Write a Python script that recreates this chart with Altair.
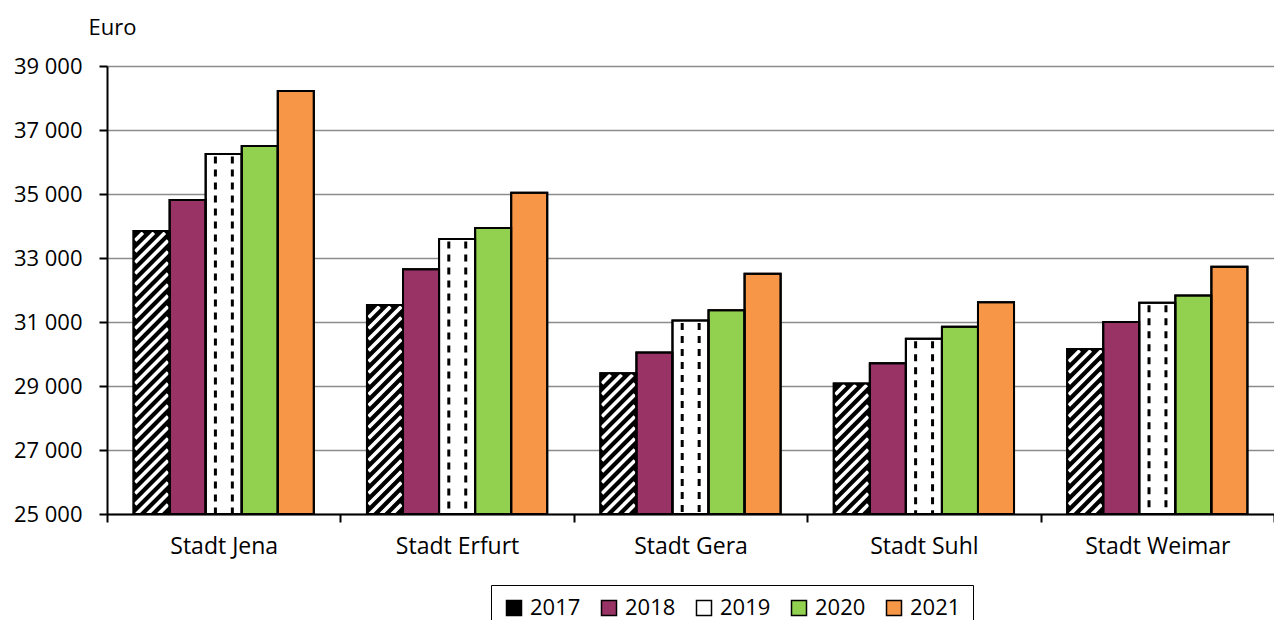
import altair as alt
import pandas as pd
import numpy as np

cities = ["Stadt Jena", "Stadt Erfurt", "Stadt Gera", "Stadt Suhl", "Stadt Weimar"]
years = ["2017", "2018", "2019", "2020", "2021"]
v2017 = [33840, 31530, 29400, 29080, 30160]
v2018 = [34810, 32650, 30050, 29710, 31000]
v2019 = [36250, 33590, 31050, 30480, 31600]
v2020 = [36500, 33940, 31370, 30850, 31830]
v2021 = [38220, 35040, 32510, 31620, 32730]
colors = ["#000000", "#993366", "#ffffff", "#92d050", "#f79646"]
y_ticks = [25000, 27000, 29000, 31000, 33000, 35000, 37000, 39000]
Y_MIN, Y_MAX = 25000, 39000

W, H = 1167, 448
PO = 0.737  # outer padding of the year sub-band
FONT = "Open Sans"

series = [v2017, v2018, v2019, v2020, v2021]
rows = []
for j, yr in enumerate(years):
    for i, c in enumerate(cities):
        rows.append({"city": c, "year": yr, "value": series[j][i]})
df = pd.DataFrame(rows)

# geometry helpers (group = 1 unit on a linear helper scale 0..5)
n = len(cities)
group_px = W / n
s = 1.0 / (len(years) + 2 * PO)
px_per_y = H / (Y_MAX - Y_MIN)

# diagonal hatch (white lines over black fill) for 2017
stripes = []
period = 11.0
inset = 1.6
for i, v in enumerate(v2017):
    left = i + PO * s
    bw = s * group_px
    h = (v - Y_MIN) * px_per_y
    x0, x1, y0, y1 = inset, bw - inset, 0.0, h - inset
    for k in np.arange(-bw, h + period, period):
        xs = max(x0, y0 - k)
        xe = min(x1, y1 - k)
        if xe - xs > 0.3:
            stripes.append({
                "x": left + xs / group_px, "x2": left + xe / group_px,
                "y": Y_MIN + (xs + k) / px_per_y, "y2": Y_MIN + (xe + k) / px_per_y,
            })
stripes_df = pd.DataFrame(stripes)

# dashed vertical columns for 2019
dashes = []
for i, v in enumerate(v2019):
    left = i + (PO + 2) * s
    for frac in (0.27, 0.74):
        dashes.append({"x": left + frac * s, "top": v - 2.5 / px_per_y, "base": Y_MIN})
dashes_df = pd.DataFrame(dashes)

yscale = alt.Scale(domain=[Y_MIN, Y_MAX], zero=False, nice=False)
xq = alt.Scale(domain=[0, n], zero=False, nice=False)

x_band = alt.X("city:N", sort=cities, scale=alt.Scale(paddingInner=0, paddingOuter=0),
               axis=alt.Axis(title=None, labelAngle=0, labelFontSize=23, labelColor="black",
                             labelFont=FONT, labelPadding=13, tickSize=8, tickWidth=2,
                             tickColor="black", domainColor="black", domainWidth=2,
                             tickBand="extent", grid=False))
x_off = alt.XOffset("year:N", sort=years, scale=alt.Scale(paddingInner=0, paddingOuter=PO))

bars = alt.Chart(df).mark_bar(stroke="black", strokeWidth=2).encode(
    x=x_band,
    xOffset=x_off,
    y=alt.Y("value:Q", scale=yscale,
            axis=alt.Axis(values=y_ticks, title="Euro",
                          labelExpr="replace(format(datum.value, ','), ',', ' ')",
                          titleAngle=0, titleAlign="left", titleBaseline="alphabetic",
                          titleX=-19, titleY=-32, titleFontSize=22, titleFontWeight="normal",
                          titleFont=FONT, titleColor="black",
                          labelFontSize=22, labelFont=FONT, labelColor="black", labelPadding=17,
                          tickSize=8, tickWidth=2, tickColor="black",
                          domainColor="black", domainWidth=2,
                          grid=True, gridColor="#8c8c8c", gridWidth=1.5)),
    y2=alt.datum(Y_MIN),
    color=alt.Color("year:N", sort=years, scale=alt.Scale(domain=years, range=colors),
                    legend=alt.Legend(orient="none", legendX=384, legendY=519,
                                      direction="horizontal", title=None,
                                      symbolType="square", symbolSize=225,
                                      symbolStrokeColor="black", symbolStrokeWidth=1.5,
                                      symbolOpacity=1,
                                      labelFontSize=22, labelFont=FONT, labelColor="black",
                                      labelOffset=5, columnPadding=17, padding=12,
                                      strokeColor="black", fillColor="white")),
)

hatch = alt.Chart(stripes_df).mark_rule(color="white", strokeWidth=3.6, strokeCap="butt").encode(
    x=alt.X("x:Q", scale=xq, axis=None),
    x2="x2:Q",
    y=alt.Y("y:Q", scale=yscale),
    y2="y2:Q",
)

dash = alt.Chart(dashes_df).mark_rule(color="black", strokeWidth=3, strokeDash=[7, 6],
                                      strokeCap="butt").encode(
    x=alt.X("x:Q", scale=xq, axis=None),
    y=alt.Y("top:Q", scale=yscale),
    y2="base:Q",
)

outline = alt.Chart(df).mark_bar(fill="transparent", stroke="black", strokeWidth=2).encode(
    x=alt.X("city:N", sort=cities, scale=alt.Scale(paddingInner=0, paddingOuter=0), axis=None),
    xOffset=x_off,
    y=alt.Y("value:Q", scale=yscale),
    y2=alt.datum(Y_MIN),
)

chart = alt.layer(bars, hatch, dash, outline).resolve_scale(x="independent").properties(
    width=W, height=H,
    autosize=alt.AutoSizeParams(type="none"),
    padding={"left": 99, "top": 58, "right": 0, "bottom": 106},
).configure_view(strokeWidth=0, stroke="transparent").configure(font=FONT)

chart.save("out.html", embed_options={"renderer": "svg", "actions": False})
